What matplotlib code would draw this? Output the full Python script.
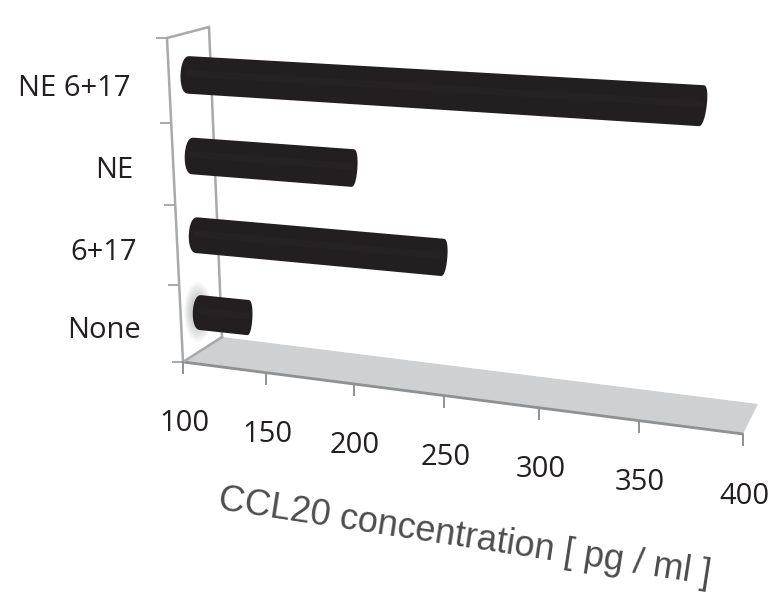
import numpy as np
import matplotlib
matplotlib.use("Agg")
import matplotlib.pyplot as plt
from matplotlib.patches import Ellipse, Polygon
from matplotlib.transforms import Transform

# ---- data
categories = ["None", "6+17", "NE", "NE 6+17"]
values = [128, 241, 192, 375]
x_ticks = [100, 150, 200, 250, 300, 350, 400]
x_title = "CCL20 concentration [ pg / ml ]"
n_y_ticks = 5

W, H = 783, 610
DARK = "#231f20"
GRID = "#a7a9ac"
FLOOR_C = "#cfd0d2"
EDGE = "#8e9092"
TEXT = "#231f20"


def solve_h(src, dst):
    A, b = [], []
    for (x, y), (u, v) in zip(src, dst):
        A.append([x, y, 1, 0, 0, 0, -u * x, -u * y]); b.append(u)
        A.append([0, 0, 0, x, y, 1, -v * x, -v * y]); b.append(v)
    return np.append(np.linalg.solve(np.array(A, float), np.array(b, float)), 1).reshape(3, 3)


class Persp(Transform):
    input_dims = output_dims = 2
    is_separable = False
    has_inverse = False

    def __init__(self, src, dst):
        super().__init__()
        self.m = solve_h(src, dst)

    def transform_non_affine(self, pts):
        pts = np.asarray(pts, float)
        p = np.c_[pts, np.ones(len(pts))] @ self.m.T
        return p[:, :2] / p[:, 2:]


# camera: one projective map for each visible plane of the 3-D box
floor_t = Persp([(100, 0), (400, 0), (400, 1), (100, 1)],
                [(183, 362), (743, 434), (758, 404), (222, 337)])
front_t = Persp([(100, 0), (400, 0), (400, 1), (100, 1)],
                [(183, 362), (743, 434), (768, 66), (167, 38)])
wall_t = Persp([(0, 0), (1, 0), (1, 1), (0, 1)],
               [(183, 362), (167, 38), (209, 27), (222, 337)])
bar_t = Persp([(100, 0), (400, 0), (400, 3), (100, 3)],
              [(201, 312.7), (744, 369.7), (752, 108.8), (189, 75)])

fig = plt.figure(figsize=(W / 100, H / 100), dpi=100)
ax = fig.add_axes([0, 0, 1, 1])
ax.set_xlim(0, W)
ax.set_ylim(H, 0)
ax.axis("off")

# floor
vmin, vmax = x_ticks[0], x_ticks[-1]
ax.add_patch(Polygon([(vmin, 0), (vmax, 0), (vmax, 1), (vmin, 1)], closed=True,
                     transform=floor_t + ax.transData, fc=FLOOR_C, ec="none", zorder=1))
ax.plot([vmin, vmax], [0, 0], transform=floor_t + ax.transData, color=EDGE, lw=2.0,
        solid_capstyle="butt", zorder=2)
ax.plot([vmin, vmin], [0, 1], transform=floor_t + ax.transData, color=GRID, lw=1.8, zorder=2)

# wall
wt = wall_t + ax.transData
ax.plot([0, 1, 1, 0], [0, 0, 1, 1], transform=wt, color=GRID, lw=1.8, zorder=2,
        solid_joinstyle="miter")

# y ticks (on front edge of the wall)
for h in np.linspace(0, 1, n_y_ticks):
    x0, y0 = wall_t.transform(np.array([[h, 0.0]]))[0]
    ax.plot([x0 - 10, x0], [y0, y0], color=GRID, lw=1.4, zorder=2)

# x ticks & labels
for v in x_ticks:
    x0, y0 = front_t.transform(np.array([[v, 0.0]]))[0]
    ax.plot([x0, x0], [y0, y0 + 11], color=EDGE, lw=1.4, zorder=2)
    ax.text(x0 + 1, y0 + 62, str(v), ha="center", va="center", fontsize=21,
            family="Open Sans", color=TEXT)

# glow behind the short bar
for k in np.linspace(1, 0.35, 12):
    ax.add_patch(Ellipse((198, 312), 2 * 14 * k, 2 * 30 * k, fc="#8a8b8e", ec="none",
                         alpha=0.05, zorder=2.5))

# bars
HW = 0.23
A_L, A_R, SHEAR = 5.0, 3.0, 1.0
t = np.linspace(-np.pi / 2, np.pi / 2, 60)
s = np.sin(t)
c = np.cos(t)
bt = bar_t + ax.transData
for r, val in enumerate(values):
    right_x = val + A_R * c ** 0.7 + SHEAR * s
    left_x = vmin - A_L * c ** 0.8 + SHEAR * s
    xs = np.r_[right_x, left_x[::-1]]
    ys = np.r_[r + HW * s, r + HW * s[::-1]]
    ax.add_patch(Polygon(np.c_[xs, ys], closed=True, transform=bt, fc=DARK, ec="none", zorder=3))
    # faint highlight of the cylinder
    ax.plot([vmin, val], [r + 0.02, r + 0.02], transform=bt, color="#282526", lw=5, alpha=0.5,
            solid_capstyle="round", zorder=3.1)

# category labels
label_pos = [(141, 331), (137, 253), (133, 171), (130, 88)]
for name, (lx, ly) in zip(categories, label_pos):
    ax.text(lx, ly, name, ha="right", va="center", fontsize=21, family="Open Sans", color=TEXT)

# axis title
ax.text(465, 537, x_title, ha="center", va="center", rotation=-8.7, rotation_mode="anchor",
        fontsize=26, family="Liberation Sans", color="#4d4d4f")

fig.savefig("out.png", dpi=100)
